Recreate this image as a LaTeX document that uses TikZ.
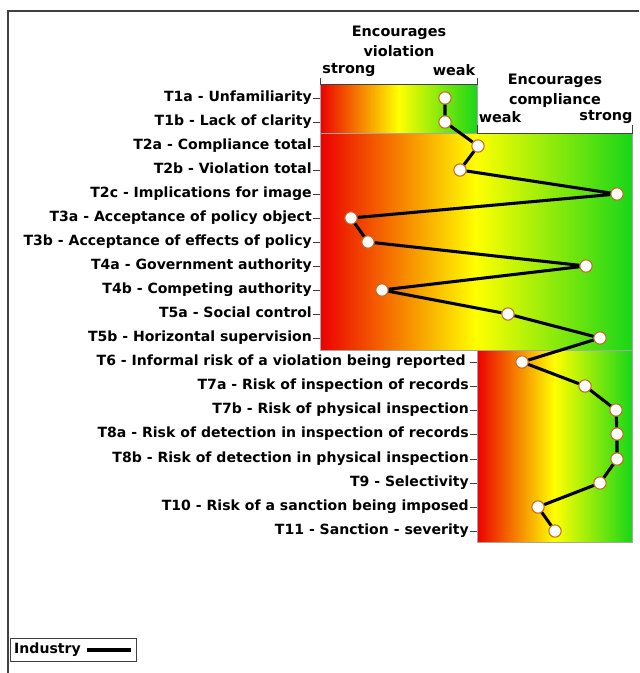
\documentclass[tikz,border=0pt]{standalone}
\usepackage{fontspec}
\setmainfont{DejaVu Sans}
\usetikzlibrary{positioning}
\definecolor{barred}{RGB}{236,0,0}
\definecolor{baryellow}{RGB}{255,255,0}
\definecolor{bargreen}{RGB}{24,214,24}
\definecolor{ringbrown}{RGB}{196,104,30}
\tikzset{
  lbl/.style={anchor=east, inner sep=0pt, text height=1.6ex, text depth=0.4ex,
    font=\fontsize{12}{13}\selectfont\bfseries},
  hdr/.style={inner sep=0pt, align=center,
    font=\fontsize{12.3}{17}\selectfont\bfseries},
  pt/.style={shape=circle, draw=ringbrown, fill=white, line width=0.9pt,
    minimum size=0.37cm, inner sep=0pt},
  band/.style={left color=barred, right color=bargreen, middle color=baryellow},
  trace/.style={line width=2.6pt, black},
  edge/.style={draw=gray!70, line width=0.6pt},
  axis/.style={draw=black!75, line width=0.8pt}}

\begin{document}
\begin{tikzpicture}[x=0.03cm, y=-0.03cm]
\useasboundingbox (0,0) rectangle (639,673);

% frame
\draw[black!75, line width=1.4pt] (639,11) -- (8,11) -- (8,673);

% coloured bands
\shade[band] (320,84) rectangle (477,133);
\shade[band] (320,133) rectangle (632,350);
\shade[band] (477,350) rectangle (632,542);
\draw[edge] (320,84) rectangle (477,133);
\draw[edge] (320,133) rectangle (632,350);
\draw[edge] (477,350) rectangle (632,542);
\draw[axis] (320,78) -- (320,84) -- (477,84) -- (477,78);
\draw[axis] (477,125) -- (477,133) -- (632,133) -- (632,125);

% headers
\node[hdr] (hviol) at (399,41) {Encourages\\violation};
\node[hdr] (hvstrong) at (349,70) {strong};
\node[hdr] (hvweak) at (454,70) {weak};
\node[hdr] (hcomp) at (555,91) {Encourages\\compliance};
\node[hdr] (hcweak) at (500,117) {weak};
\node[hdr] (hcstrong) at (606,117) {strong};

% item labels
\node[lbl] (l1a) at (312,98) {T1a - Unfamiliarity};
\node[lbl] (l1b) at (312,122) {T1b - Lack of clarity};
\node[lbl] (l2a) at (312,146) {T2a - Compliance total};
\node[lbl] (l2b) at (312,170) {T2b - Violation total};
\node[lbl] (l2c) at (312,194) {T2c - Implications for image};
\node[lbl] (l3a) at (312,218) {T3a - Acceptance of policy object};
\node[lbl] (l3b) at (312,242) {T3b - Acceptance of effects of policy};
\node[lbl] (l4a) at (312,266) {T4a - Government authority};
\node[lbl] (l4b) at (312,290) {T4b - Competing authority};
\node[lbl] (l5a) at (312,314) {T5a - Social control};
\node[lbl] (l5b) at (312,338) {T5b - Horizontal supervision};
\node[lbl] (l6) at (466,362) {T6 - Informal risk of a violation being reported};
\node[lbl] (l7a) at (469,386) {T7a - Risk of inspection of records};
\node[lbl] (l7b) at (469,410) {T7b - Risk of physical inspection};
\node[lbl] (l8a) at (469,434) {T8a - Risk of detection in inspection of records};
\node[lbl] (l8b) at (469,459) {T8b - Risk of detection in physical inspection};
\node[lbl] (l9) at (469,483) {T9 - Selectivity};
\node[lbl] (l10) at (469,507) {T10 - Risk of a sanction being imposed};
\node[lbl] (l11) at (469,531) {T11 - Sanction - severity};

% ticks
\foreach \n in {l1a,l1b,l2a,l2b,l2c,l3a,l3b,l4a,l4b,l5a,l5b}
  \draw[axis] (\n.east) ++(1,0) -- ++(7,0);
\draw[axis] (l6.east) ++(4,0) -- ++(7,0);
\foreach \n in {l7a,l7b,l8a,l8b,l9,l10,l11}
  \draw[axis] (\n.east) ++(1,0) -- ++(7,0);

% scores
\node[pt] (p1a) at (445,98) {};
\node[pt] (p1b) at (445,122) {};
\node[pt] (p2a) at (478,146) {};
\node[pt] (p2b) at (460,170) {};
\node[pt] (p2c) at (617,194) {};
\node[pt] (p3a) at (351,218) {};
\node[pt] (p3b) at (368,242) {};
\node[pt] (p4a) at (586,266) {};
\node[pt] (p4b) at (382,290) {};
\node[pt] (p5a) at (508,314) {};
\node[pt] (p5b) at (600,338) {};
\node[pt] (p6) at (522,362) {};
\node[pt] (p7a) at (585,386) {};
\node[pt] (p7b) at (616,410) {};
\node[pt] (p8a) at (617,434) {};
\node[pt] (p8b) at (617,459) {};
\node[pt] (p9) at (600,483) {};
\node[pt] (p10) at (538,507) {};
\node[pt] (p11) at (555,531) {};

\draw[trace] (p1a) -- (p1b) -- (p2a) -- (p2b) -- (p2c) -- (p3a) -- (p3b)
  -- (p4a) -- (p4b) -- (p5a) -- (p5b) -- (p6) -- (p7a) -- (p7b) -- (p8a)
  -- (p8b) -- (p9) -- (p10) -- (p11);

% legend
\draw[black!75, line width=0.8pt] (10,638) rectangle (136,661);
\node[lbl, anchor=west] (lgd) at (14,650) {Industry};
\coordinate (lgdend) at (131,650);
\draw[trace] ([xshift=0.18cm]lgd.east) -- (lgdend);
\end{tikzpicture}
\end{document}
